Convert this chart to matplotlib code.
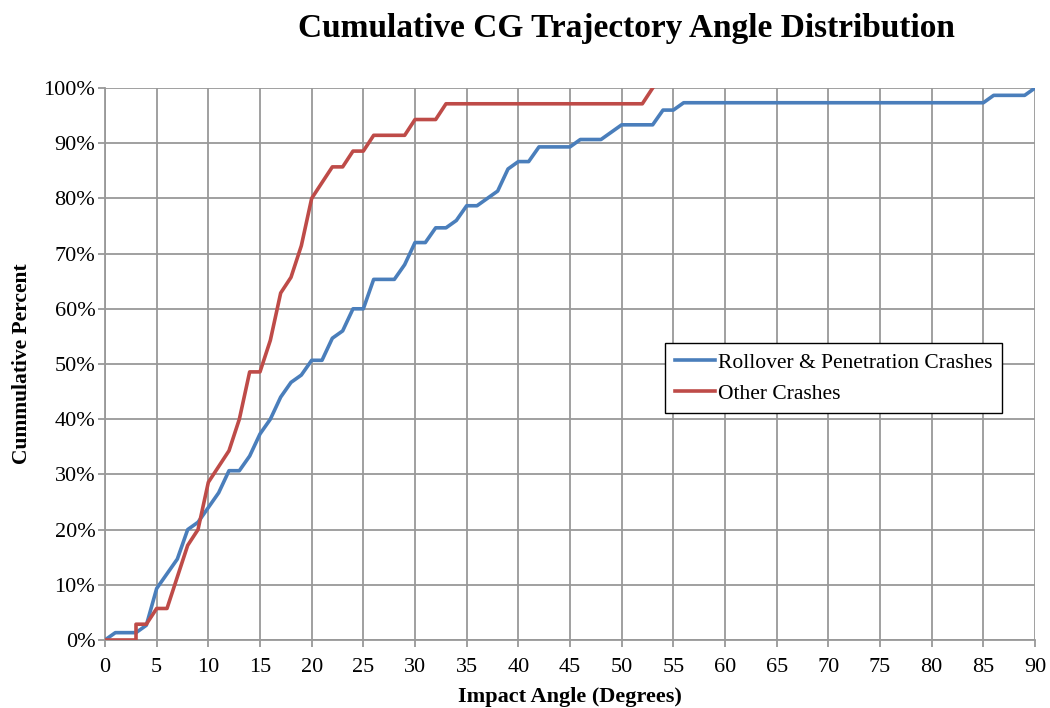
import matplotlib
matplotlib.use("Agg")
import matplotlib.pyplot as plt
from matplotlib.ticker import FuncFormatter, MultipleLocator

# Rollover & Penetration Crashes (cumulative %, one point per degree 0..90)
rollover_x = list(range(0, 91))
rollover_y = [0, 1.33, 1.33, 1.33, 2.67, 9.33, 12.0, 14.67, 20.0, 21.33,
              24.0, 26.67, 30.67, 30.67, 33.33, 37.33, 40.0, 44.0, 46.67, 48.0,
              50.67, 50.67, 54.67, 56.0, 60.0, 60.0, 65.33, 65.33, 65.33, 68.0,
              72.0, 72.0, 74.67, 74.67, 76.0, 78.67, 78.67, 80.0, 81.33, 85.33,
              86.67, 86.67, 89.33, 89.33, 89.33, 89.33, 90.67, 90.67, 90.67, 92.0,
              93.33, 93.33, 93.33, 93.33, 96.0, 96.0, 97.33, 97.33, 97.33, 97.33,
              97.33, 97.33, 97.33, 97.33, 97.33, 97.33, 97.33, 97.33, 97.33, 97.33,
              97.33, 97.33, 97.33, 97.33, 97.33, 97.33, 97.33, 97.33, 97.33, 97.33,
              97.33, 97.33, 97.33, 97.33, 97.33, 97.33, 98.67, 98.67, 98.67, 98.67,
              100.0]

# Other Crashes
other_x = [0, 1, 2, 3, 3, 4, 5, 6, 7, 8, 9, 10, 11, 12, 13, 14, 15, 16, 17, 18,
           19, 20, 21, 22, 23, 24, 25, 26, 27, 28, 29, 30, 31, 32, 33, 34, 35,
           36, 37, 38, 39, 40, 41, 42, 43, 44, 45, 46, 47, 48, 49, 50, 51, 52, 53]
other_y = [0, 0, 0, 0, 2.86, 2.86, 5.71, 5.71, 11.43, 17.14, 20.0, 28.57, 31.43,
           34.29, 40.0, 48.57, 48.57, 54.29, 62.86, 65.71, 71.43, 80.0, 82.86,
           85.71, 85.71, 88.57, 88.57, 91.43, 91.43, 91.43, 91.43, 94.29, 94.29,
           94.29, 97.14, 97.14, 97.14, 97.14, 97.14, 97.14, 97.14, 97.14, 97.14,
           97.14, 97.14, 97.14, 97.14, 97.14, 97.14, 97.14, 97.14, 97.14, 97.14,
           97.14, 100.0]

title = "Cumulative CG Trajectory Angle Distribution"
xlabel = "Impact Angle (Degrees)"
ylabel = "Cummulative Percent"
series_names = ["Rollover & Penetration Crashes", "Other Crashes"]

plt.rcParams['font.family'] = ['Liberation Serif', 'DejaVu Serif']

fig = plt.figure(figsize=(10.5, 7.08), dpi=100)
ax = fig.add_axes([105/1050, 1 - 640/708, 930/1050, 552/708])

ax.plot(rollover_x, rollover_y, color='#4A7EBB', lw=2.6, label=series_names[0],
        solid_joinstyle='round', zorder=3)
ax.plot(other_x, other_y, color='#BE4B48', lw=2.6, label=series_names[1],
        solid_joinstyle='round', zorder=3)

ax.set_xlim(0, 90)
ax.set_ylim(0, 100)
ax.xaxis.set_major_locator(MultipleLocator(5))
ax.yaxis.set_major_locator(MultipleLocator(10))
ax.yaxis.set_major_formatter(FuncFormatter(lambda v, p: f"{int(round(v))}%"))

gc = '#999999'
ax.grid(True, color=gc, lw=1.3, zorder=0)
for s in ax.spines.values():
    s.set_color(gc)
    s.set_linewidth(1.3)
ax.spines['top'].set_visible(False)
ax.spines['right'].set_visible(False)
ax.tick_params(axis='both', direction='out', length=5, width=1.3, colors=gc,
               labelsize=16, labelcolor='black')
ax.tick_params(axis='x', pad=8)
ax.tick_params(axis='y', pad=2)

ax.set_xlabel(xlabel, fontsize=16, fontweight='bold', labelpad=7)
ax.set_ylabel(ylabel, fontsize=15.5, fontweight='bold', labelpad=8)

fig.text(626/1050, 1 - 28/708, title, ha='center', va='center', fontsize=24,
         fontweight='bold')

leg = ax.legend(loc='upper left', bbox_to_anchor=(0.602, 0.538), fontsize=15.5,
                frameon=True, fancybox=False, edgecolor='black', framealpha=1,
                handlelength=1.9, handletextpad=0.1, borderpad=0.45,
                labelspacing=0.5, borderaxespad=0)
leg.get_frame().set_linewidth(1.0)

fig.savefig("out.png", dpi=100)
